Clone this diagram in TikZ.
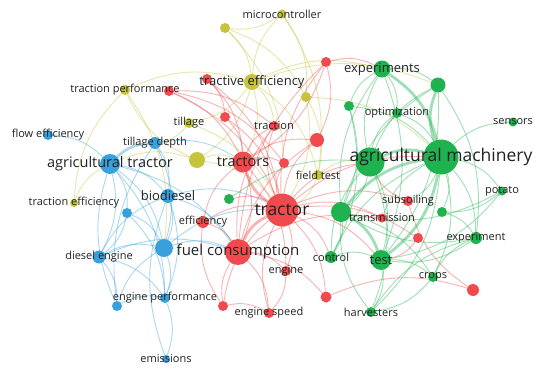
\documentclass[tikz,border=0pt]{standalone}
\usepackage{fontspec}
\setmainfont{Open Sans}
\usetikzlibrary{backgrounds}
\usepackage{xcolor}
\definecolor{vred}{HTML}{F04A4E}
\definecolor{vgreen}{HTML}{1EB34F}
\definecolor{vblue}{HTML}{38A1DB}
\definecolor{vyellow}{HTML}{C6C43B}
\definecolor{ink}{HTML}{222222}
\tikzset{
  kw/.style={circle,inner sep=0pt,draw=none},
  redkw/.style={kw,fill=vred},
  greenkw/.style={kw,fill=vgreen},
  bluekw/.style={kw,fill=vblue},
  yellowkw/.style={kw,fill=vyellow},
  term/.style={text=ink,inner sep=0pt,font=\fontsize{11}{13}\selectfont},
  termm/.style={term,font=\fontsize{13}{15}\selectfont},
  terml/.style={term,font=\fontsize{14.5}{17}\selectfont},
  termxl/.style={term,font=\fontsize{17.5}{20}\selectfont},
  link/.style={line width=0.9pt,draw opacity=0.42,bend left=20},
  redlink/.style={link,draw=vred},
  greenlink/.style={link,draw=vgreen},
  bluelink/.style={link,draw=vblue},
  yellowlink/.style={link,draw=vyellow},
  heavy/.style={line width=2.8pt}
}

\begin{document}
\begin{tikzpicture}[x=1pt,y=-1pt]
\useasboundingbox (0,0) rectangle (550,375);
% yellow cluster
\node[yellowkw,minimum size=9pt] (micro) at (282,14) {};
\node[yellowkw,minimum size=10pt] (y2) at (225,28) {};
\node[yellowkw,minimum size=16pt] (tractive) at (252,82) {};
\node[yellowkw,minimum size=10pt] (tracperf) at (125,90) {};
\node[yellowkw,minimum size=10pt] (tillage) at (189,123) {};
\node[yellowkw,minimum size=16pt] (y6) at (197,160) {};
\node[yellowkw,minimum size=8pt] (traceff) at (74,203) {};
\node[yellowkw,minimum size=10pt] (fieldtest) at (318,175) {};
\node[yellowkw,minimum size=10pt] (y9) at (306,97) {};
% blue cluster
\node[bluekw,minimum size=10pt] (floweff) at (48,135) {};
\node[bluekw,minimum size=12pt] (tilldepth) at (155,143) {};
\node[bluekw,minimum size=20pt] (agtractor) at (110,164) {};
\node[bluekw,minimum size=14pt] (biodiesel) at (168,196) {};
\node[bluekw,minimum size=10pt] (b5) at (127,213) {};
\node[bluekw,minimum size=18pt] (b6) at (164,248) {};
\node[bluekw,minimum size=13pt] (diesel) at (99,257) {};
\node[bluekw,minimum size=10pt] (engperf) at (165,298) {};
\node[bluekw,minimum size=10pt] (b9) at (117,306) {};
\node[bluekw,minimum size=8pt] (emissions) at (166,359) {};
% red cluster
\node[redkw,minimum size=33pt] (tractor) at (282,210) {};
\node[redkw,minimum size=21pt] (tractors) at (243,162) {};
\node[redkw,minimum size=26pt] (fuelcons) at (238,252) {};
\node[redkw,minimum size=12pt] (efficiency) at (203,222) {};
\node[redkw,minimum size=10pt] (traction) at (274,126) {};
\node[redkw,minimum size=10pt] (r6) at (225,117) {};
\node[redkw,minimum size=14pt] (r7) at (317,140) {};
\node[redkw,minimum size=10pt] (r8) at (284,163) {};
\node[redkw,minimum size=10pt] (r9) at (169,91) {};
\node[redkw,minimum size=10pt] (r10) at (207,79) {};
\node[redkw,minimum size=10pt] (r11) at (326,62) {};
\node[redkw,minimum size=10pt] (engine) at (286,271) {};
\node[redkw,minimum size=10pt] (engspeed) at (269,313) {};
\node[redkw,minimum size=10pt] (r14) at (223,306) {};
\node[redkw,minimum size=11pt] (r15) at (326,297) {};
\node[redkw,minimum size=10pt] (subsoil) at (408,201) {};
\node[redkw,minimum size=9pt] (transm) at (382,218) {};
\node[redkw,minimum size=10pt] (r18) at (418,238) {};
\node[redkw,minimum size=12pt] (r19) at (473,290) {};
% green cluster
\node[greenkw,minimum size=35pt] (agmach) at (441,157) {};
\node[greenkw,minimum size=29pt] (g2) at (370,162) {};
\node[greenkw,minimum size=17pt] (experiments) at (382,69) {};
\node[greenkw,minimum size=15pt] (g4) at (438,85) {};
\node[greenkw,minimum size=10pt] (g5) at (349,106) {};
\node[greenkw,minimum size=10pt] (optim) at (397,113) {};
\node[greenkw,minimum size=9pt] (sensors) at (513,122) {};
\node[greenkw,minimum size=9pt] (potato) at (502,191) {};
\node[greenkw,minimum size=10pt] (g9) at (442,212) {};
\node[greenkw,minimum size=12pt] (experiment) at (476,238) {};
\node[greenkw,minimum size=10pt] (crops) at (433,277) {};
\node[greenkw,minimum size=20pt] (test) at (381,260) {};
\node[greenkw,minimum size=12pt] (control) at (331,257) {};
\node[greenkw,minimum size=20pt] (g14) at (341,212) {};
\node[greenkw,minimum size=10pt] (harvesters) at (371,312) {};
\node[greenkw,minimum size=10pt] (g16) at (229,199) {};

% labels on top
\node[term] (l-micro) at (micro) {microcontroller};
\node[termm] (l-tractive) at (tractive) {tractive efficiency};
\node[term] (l-tracperf) at (tracperf) {traction performance};
\node[term] (l-tillage) at (tillage) {tillage};
\node[term] (l-traceff) at (traceff) {traction efficiency};
\node[term] (l-fieldtest) at (fieldtest) {field test};
\node[term] (l-floweff) at (floweff) {flow efficiency};
\node[term] (l-tilldepth) at (tilldepth) {tillage depth};
\node[terml] (l-agtractor) at (agtractor) {agricultural tractor};
\node[termm] (l-biodiesel) at (biodiesel) {biodiesel};
\node[term] (l-diesel) at (diesel) {diesel engine};
\node[term] (l-engperf) at (engperf) {engine performance};
\node[term] (l-emissions) at (emissions) {emissions};
\node[termxl] (l-tractor) at (tractor) {tractor};
\node[terml] (l-tractors) at (tractors) {tractors};
\node[terml,font=\fontsize{15}{18}\selectfont] (l-fuelcons) at (fuelcons) {fuel consumption};
\node[term] (l-efficiency) at (efficiency) {efficiency};
\node[term] (l-traction) at (traction) {traction};
\node[term] (l-engine) at (engine) {engine};
\node[term] (l-engspeed) at (engspeed) {engine speed};
\node[term] (l-subsoil) at (subsoil) {subsoiling};
\node[term] (l-transm) at (transm) {transmission};
\node[termxl] (l-agmach) at (agmach) {agricultural machinery};
\node[termm] (l-experiments) at (experiments) {experiments};
\node[term] (l-optim) at (optim) {optimization};
\node[term] (l-sensors) at (sensors) {sensors};
\node[term] (l-potato) at (potato) {potato};
\node[term] (l-experiment) at (experiment) {experiment};
\node[term] (l-crops) at (crops) {crops};
\node[termm] (l-test) at (test) {test};
\node[term] (l-control) at (control) {control};
\node[term] (l-harvesters) at (harvesters) {harvesters};

\begin{scope}[on background layer]
\fill[white] (0,0) rectangle (550,375);
% yellow links
\draw[yellowlink] (micro) to (y2);
\draw[yellowlink] (tractive) to (micro);
\draw[yellowlink] (micro) to (y9);
\draw[yellowlink] (micro) to (fieldtest);
\draw[yellowlink] (y2) to (tractive);
\draw[yellowlink] (y2) to (r8);
\draw[yellowlink] (y2) to (y9);
\draw[yellowlink] (tracperf) to (tractive);
\draw[yellowlink] (tractive) to (tillage);
\draw[yellowlink] (tractive) to (y6);
\draw[yellowlink] (tractive) to (fieldtest);
\draw[yellowlink] (tractive) to (traction);
\draw[yellowlink] (tractive) to (g4);
\draw[yellowlink] (tractive) to (experiments);
\draw[yellowlink] (tractive) to (tractors);
\draw[yellowlink] (y6) to (tracperf);
\draw[yellowlink] (traceff) to (tracperf);
\draw[yellowlink] (tracperf) to (b6);
\draw[yellowlink] (tillage) to (tilldepth);
\draw[yellowlink] (tillage) to (tractor);
\draw[yellowlink] (y6) to (tractor);
\draw[yellowlink] (y6) to (tractors);
\draw[yellowlink] (agtractor) to (y6);
\draw[yellowlink] (traceff) to (agtractor);
\draw[yellowlink] (fieldtest) to (tractor);
\draw[yellowlink] (fieldtest) to (g2);
\draw[yellowlink] (y9) to (tractor);
\draw[yellowlink] (y9) to (fieldtest);
\draw[yellowlink] (y9) to (agmach);
% blue links
\draw[bluelink] (floweff) to (agtractor);
\draw[bluelink,heavy] (agtractor) to (tilldepth);
\draw[bluelink] (agtractor) to (biodiesel);
\draw[bluelink] (agtractor) to (b5);
\draw[bluelink] (agtractor) to (b6);
\draw[bluelink] (agtractor) to (diesel);
\draw[bluelink] (agtractor) to (engperf);
\draw[bluelink] (b9) to (agtractor);
\draw[bluelink] (agtractor) to (fuelcons);
\draw[bluelink] (tilldepth) to (b6);
\draw[bluelink] (tilldepth) to (biodiesel);
\draw[bluelink] (b9) to (tilldepth);
\draw[bluelink] (tilldepth) to (tractors);
\draw[bluelink] (biodiesel) to (b6);
\draw[bluelink] (diesel) to (biodiesel);
\draw[bluelink] (biodiesel) to (engperf);
\draw[bluelink] (biodiesel) to (fuelcons);
\draw[bluelink] (biodiesel) to (tractor);
\draw[bluelink] (b5) to (diesel);
\draw[bluelink] (b5) to (engperf);
\draw[bluelink] (b5) to (b6);
\draw[bluelink] (diesel) to (b6);
\draw[bluelink] (b6) to (engperf);
\draw[bluelink] (b9) to (b6);
\draw[bluelink] (b6) to (fuelcons);
\draw[bluelink] (b6) to (tractor);
\draw[bluelink] (diesel) to (engperf);
\draw[bluelink] (diesel) to (b9);
\draw[bluelink] (diesel) to (fuelcons);
\draw[bluelink] (engperf) to (emissions);
\draw[bluelink] (emissions) to (biodiesel);
\draw[bluelink] (b9) to (engperf);
% red links
\draw[redlink,heavy] (tractor) to (tractors);
\draw[redlink,heavy] (fuelcons) to (tractor);
\draw[redlink] (efficiency) to (tractor);
\draw[redlink] (tractor) to (traction);
\draw[redlink] (r6) to (tractor);
\draw[redlink] (tractor) to (r7);
\draw[redlink] (tractor) to (r8);
\draw[redlink] (r9) to (tractor);
\draw[redlink] (r10) to (tractor);
\draw[redlink] (tractor) to (r11);
\draw[redlink] (tractor) to (engine);
\draw[redlink] (engspeed) to (tractor);
\draw[redlink] (r14) to (tractor);
\draw[redlink] (tractor) to (r15);
\draw[redlink] (tractor) to (subsoil);
\draw[redlink] (tractor) to (transm);
\draw[redlink] (tractor) to (r18);
\draw[redlink] (tractor) to (g2);
\draw[redlink] (tractor) to (agmach);
\draw[redlink] (tractor) to (test);
\draw[redlink] (tractor) to (control);
\draw[redlink] (g16) to (tractor);
\draw[redlink] (tractors) to (fuelcons);
\draw[redlink] (r6) to (tractors);
\draw[redlink] (r10) to (tractors);
\draw[redlink] (r9) to (tractors);
\draw[redlink] (tractors) to (r7);
\draw[redlink] (tractors) to (r8);
\draw[redlink] (tractors) to (traction);
\draw[redlink] (efficiency) to (tractors);
\draw[redlink] (tractors) to (engine);
\draw[redlink] (efficiency) to (fuelcons);
\draw[redlink] (fuelcons) to (engine);
\draw[redlink] (fuelcons) to (engspeed);
\draw[redlink] (r14) to (fuelcons);
\draw[redlink] (fuelcons) to (r15);
\draw[redlink] (fuelcons) to (r7);
\draw[redlink] (fuelcons) to (r11);
\draw[redlink] (fuelcons) to (traction);
\draw[redlink] (fuelcons) to (transm);
\draw[redlink] (r9) to (traction);
\draw[redlink] (r9) to (r8);
\draw[redlink] (r10) to (r6);
\draw[redlink] (r11) to (r7);
\draw[redlink] (r11) to (experiments);
\draw[redlink] (r11) to (tractors);
\draw[redlink] (r15) to (r19);
\draw[redlink] (r18) to (test);
\draw[redlink] (subsoil) to (g2);
\draw[redlink] (r19) to (subsoil);
\draw[redlink] (r14) to (engspeed);
\draw[redlink] (engine) to (engspeed);
\draw[redlink] (r14) to (efficiency);
% green links
\draw[greenlink,heavy] (g2) to (agmach);
\draw[greenlink,heavy] (experiments) to (agmach);
\draw[greenlink,heavy] (agmach) to (g4);
\draw[greenlink] (g5) to (agmach);
\draw[greenlink] (optim) to (agmach);
\draw[greenlink] (agmach) to (sensors);
\draw[greenlink] (agmach) to (potato);
\draw[greenlink] (agmach) to (g9);
\draw[greenlink] (agmach) to (experiment);
\draw[greenlink] (agmach) to (crops);
\draw[greenlink,heavy] (agmach) to (test);
\draw[greenlink] (control) to (agmach);
\draw[greenlink,heavy] (g14) to (agmach);
\draw[greenlink] (agmach) to (harvesters);
\draw[greenlink] (agmach) to (subsoil);
\draw[greenlink] (transm) to (agmach);
\draw[greenlink] (g2) to (experiments);
\draw[greenlink] (g2) to (g4);
\draw[greenlink] (g2) to (optim);
\draw[greenlink] (g2) to (test);
\draw[greenlink] (g2) to (g14);
\draw[greenlink] (control) to (g2);
\draw[greenlink] (g2) to (harvesters);
\draw[greenlink] (experiments) to (g4);
\draw[greenlink] (g5) to (experiments);
\draw[greenlink] (experiments) to (optim);
\draw[greenlink] (g14) to (experiments);
\draw[greenlink] (experiments) to (test);
\draw[greenlink] (g14) to (g4);
\draw[greenlink] (g4) to (test);
\draw[greenlink] (g4) to (experiment);
\draw[greenlink] (potato) to (g14);
\draw[greenlink] (potato) to (g9);
\draw[greenlink] (potato) to (test);
\draw[greenlink] (experiment) to (g14);
\draw[greenlink] (experiment) to (test);
\draw[greenlink] (crops) to (experiment);
\draw[greenlink] (g9) to (experiment);
\draw[greenlink] (harvesters) to (experiment);
\draw[greenlink] (test) to (crops);
\draw[greenlink] (g14) to (crops);
\draw[greenlink] (crops) to (harvesters);
\draw[greenlink,heavy] (g14) to (test);
\draw[greenlink] (control) to (test);
\draw[greenlink] (test) to (harvesters);
\draw[greenlink] (g14) to (control);
\draw[greenlink] (g16) to (g2);
\draw[greenlink] (harvesters) to (g14);
\draw[greenlink] (g5) to (g14);
\draw[greenlink] (g5) to (control);
\end{scope}
\end{tikzpicture}
\end{document}
